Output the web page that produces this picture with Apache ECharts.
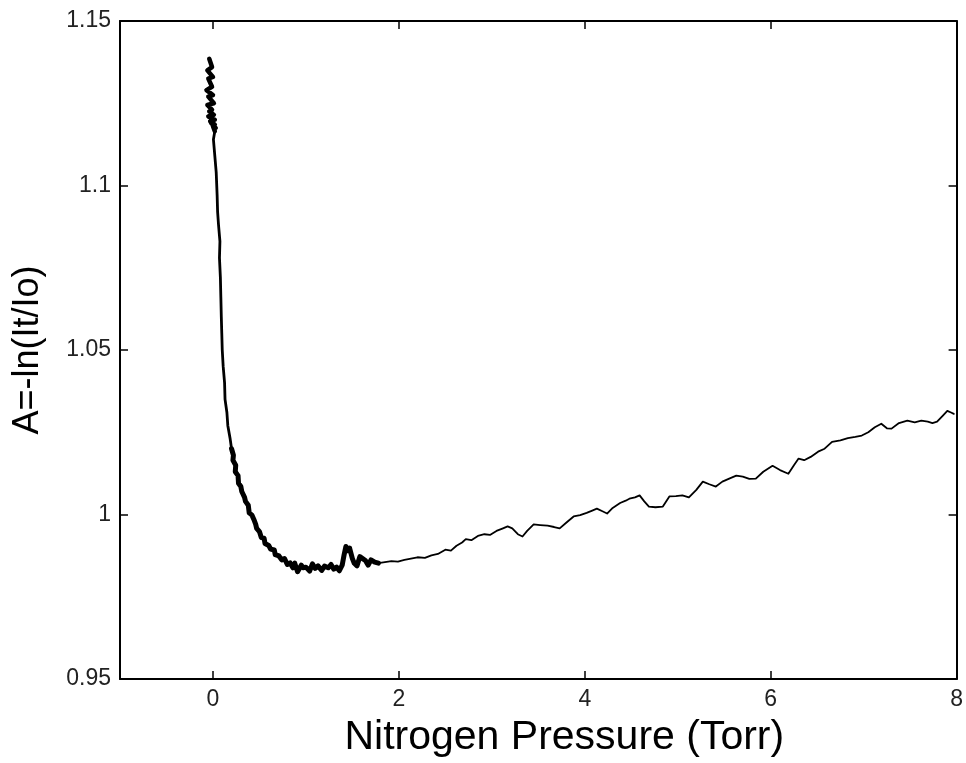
<!DOCTYPE html>
<html>
<head>
<meta charset="utf-8">
<script src="https://cdn.jsdelivr.net/npm/echarts@6/dist/echarts.min.js"></script>
<style>html,body{margin:0;padding:0;background:#fff;}#c{width:966px;height:763px;}</style>
</head>
<body>
<div id="c"></div>
<script>
// Axis settings
const xMin = -1, xMax = 8;
const yMin = 0.95, yMax = 1.15, yStep = 0.05;
const xTitle = 'Nitrogen Pressure (Torr)';
const yTitle = 'A=-ln(It/Io)';

// Start of the trace: dense noisy cluster near 0 Torr
const topX = [-0.04,-0.01,-0.06,0.00,-0.05,-0.01,-0.07,0.00,-0.05,0.01,-0.06,-0.01,-0.04,0.01,-0.05,0.02,-0.03,0.02,-0.02,0.03,0.00,0.02];
const topY = [1.1385,1.1360,1.1350,1.1330,1.1325,1.1300,1.1290,1.1275,1.1270,1.1250,1.1245,1.1230,1.1225,1.1215,1.1210,1.1200,1.1195,1.1185,1.1190,1.1175,1.1180,1.1165];

// Steep descent
const descX = [0.02,0.005,0.02,0.035,0.045,0.05,0.06,0.075,0.07,0.08,0.085,0.09,0.095,0.10,0.11,0.125,0.13,0.15,0.16,0.185,0.20,0.22];
const descY = [1.1165,1.1140,1.1090,1.1040,1.0970,1.0920,1.0880,1.0830,1.0780,1.0720,1.0660,1.0600,1.0550,1.0500,1.0450,1.0400,1.0350,1.0310,1.0270,1.0230,1.0200,1.0180];

// Noisy bend and minimum (thick band)
const bandX = [0.20,0.22,0.215,0.245,0.24,0.27,0.275,0.30,0.31,0.34,0.35,0.38,0.39,0.42,0.44,0.46,0.47,0.50,0.52,0.55,0.56,0.60,0.62,0.66,0.67,0.71,0.74,0.77,0.80,0.83,0.86,0.88,0.91,0.95,0.97,1.00,1.04,1.07,1.10,1.13,1.17,1.20,1.24,1.27,1.30,1.33,1.36,1.39,1.41,1.43,1.45,1.47,1.50,1.52,1.55,1.58,1.61,1.64,1.67,1.70,1.74,1.78];
const bandY = [1.0200,1.0180,1.0165,1.0150,1.0130,1.0118,1.0095,1.0085,1.0070,1.0052,1.0040,1.0028,1.0005,0.9998,0.9985,0.9970,0.9958,0.9948,0.9930,0.9928,0.9912,0.9906,0.9895,0.9892,0.9878,0.9874,0.9862,0.9866,0.9848,0.9853,0.9838,0.9852,0.9826,0.9846,0.9838,0.9840,0.9828,0.9850,0.9836,0.9844,0.9830,0.9843,0.9838,0.9848,0.9834,0.9840,0.9829,0.9846,0.9876,0.9903,0.9890,0.9898,0.9866,0.9852,0.9844,0.9872,0.9866,0.9860,0.9846,0.9862,0.9855,0.9852];

// Later, smoother part of the trace
const lateX = [1.78,1.85,1.92,1.99,2.06,2.13,2.20,2.28,2.35,2.42,2.50,2.56,2.62,2.68,2.72,2.78,2.85,2.92,2.98,3.05,3.12,3.17,3.22,3.28,3.33,3.38,3.45,3.52,3.60,3.67,3.73,3.80,3.88,3.95,4.02,4.08,4.13,4.19,4.24,4.30,4.38,4.44,4.48,4.54,4.59,4.64,4.69,4.76,4.84,4.91,4.98,5.05,5.12,5.20,5.27,5.34,5.41,5.48,5.56,5.63,5.70,5.77,5.84,5.92,6.02,6.10,6.19,6.25,6.30,6.36,6.43,6.51,6.58,6.66,6.75,6.83,6.91,6.98,7.05,7.12,7.19,7.25,7.30,7.38,7.47,7.55,7.62,7.69,7.74,7.79,7.85,7.90,7.94,7.97];
const lateY = [0.9852,0.9855,0.9858,0.9857,0.9862,0.9866,0.9870,0.9868,0.9876,0.9880,0.9893,0.9890,0.9905,0.9915,0.9925,0.9922,0.9935,0.9940,0.9938,0.9950,0.9958,0.9964,0.9958,0.9940,0.9933,0.9950,0.9970,0.9968,0.9966,0.9962,0.9958,0.9975,0.9994,0.9998,1.0005,1.0012,1.0018,1.0010,1.0003,1.0020,1.0035,1.0042,1.0048,1.0052,1.0058,1.0040,1.0024,1.0022,1.0024,1.0055,1.0056,1.0058,1.0052,1.0075,1.0100,1.0092,1.0085,1.0100,1.0110,1.0118,1.0115,1.0108,1.0109,1.0130,1.0148,1.0135,1.0124,1.0150,1.0170,1.0165,1.0175,1.0191,1.0200,1.0221,1.0225,1.0232,1.0236,1.0240,1.0250,1.0265,1.0276,1.0262,1.0261,1.0278,1.0285,1.0280,1.0285,1.0282,1.0278,1.0282,1.0300,1.0315,1.0310,1.0306];

const zip = (xs, ys) => xs.map((x, i) => [x, ys[i]]);

const FONT = '"Liberation Sans", Arial, sans-serif';
const axisLineStyle = { color: '#000', width: 2 };
const tickCommon = { show: true, inside: true, length: 8, lineStyle: { color: '#000', width: 1.5 } };

const chart = echarts.init(document.getElementById('c'), null, { renderer: 'canvas' });
const lineSeries = (xs, ys, w) => ({
  type: 'line', data: zip(xs, ys), showSymbol: false, symbol: 'none',
  lineStyle: { color: '#000', width: w, join: 'round', cap: 'round' }, silent: true
});
chart.setOption({
  animation: false,
  backgroundColor: '#fff',
  grid: { left: 120, right: 3, top: 21, bottom: 82, containLabel: false },
  xAxis: [
    {
      type: 'value', position: 'bottom', min: xMin, max: xMax, splitNumber: 5,
      axisLine: { show: true, onZero: false, lineStyle: axisLineStyle },
      axisTick: tickCommon,
      splitLine: { show: false },
      axisLabel: { showMinLabel: false, margin: 9, fontFamily: FONT, fontSize: 23, color: '#222' },
      name: xTitle, nameLocation: 'middle', nameGap: 38,
      nameTextStyle: { fontFamily: FONT, fontSize: 41, color: '#000', padding: [0, 0, 0, 52] }
    },
    {
      type: 'value', position: 'top', min: xMin, max: xMax, splitNumber: 5,
      axisLine: { show: true, onZero: false, lineStyle: axisLineStyle },
      axisTick: tickCommon,
      splitLine: { show: false },
      axisLabel: { show: false }
    }
  ],
  yAxis: [
    {
      type: 'value', position: 'left', min: yMin, max: yMax, interval: yStep,
      axisLine: { show: true, onZero: false, lineStyle: axisLineStyle },
      axisTick: tickCommon,
      splitLine: { show: false },
      axisLabel: { margin: 9, fontFamily: FONT, fontSize: 23, color: '#222' },
      name: yTitle, nameLocation: 'middle', nameGap: 74,
      nameTextStyle: { fontFamily: FONT, fontSize: 36, color: '#000' }
    },
    {
      type: 'value', position: 'right', min: yMin, max: yMax, interval: yStep,
      axisLine: { show: true, onZero: false, lineStyle: axisLineStyle },
      axisTick: tickCommon,
      splitLine: { show: false },
      axisLabel: { show: false }
    }
  ],
  series: [
    lineSeries(topX, topY, 4.5),
    lineSeries(descX, descY, 2.8),
    lineSeries(bandX, bandY, 5),
    lineSeries(lateX, lateY, 1.8)
  ]
});
</script>
</body>
</html>
